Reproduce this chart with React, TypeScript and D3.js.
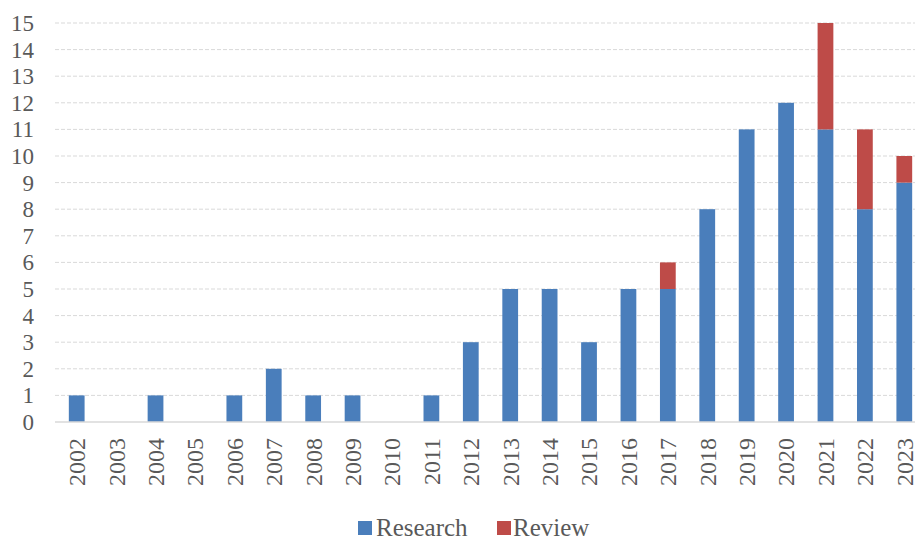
import React from 'react';
import * as d3 from 'd3';

const years = ['2002', '2003', '2004', '2005', '2006', '2007', '2008', '2009', '2010', '2011', '2012',
  '2013', '2014', '2015', '2016', '2017', '2018', '2019', '2020', '2021', '2022', '2023'];
const research = [1, 0, 1, 0, 1, 2, 1, 1, 0, 1, 3, 5, 5, 3, 5, 5, 8, 11, 12, 11, 8, 9];
const review = [0, 0, 0, 0, 0, 0, 0, 0, 0, 0, 0, 0, 0, 0, 0, 1, 0, 0, 0, 4, 3, 1];
const yTicks = d3.range(0, 16);

const W = 915;
const H = 543;
const font = '"Liberation Serif", "Times New Roman", serif';
const textColor = '#595959';
const blue = '#4A7EBB';
const red = '#BE4B48';

export default function App() {
  const x = d3.scaleBand<string>().domain(years).range([57, 924]).paddingInner(0.6).paddingOuter(0.3);
  const y = d3.scaleLinear().domain([0, 15]).range([422, 23]);

  const rows = years.map((yr, i) => ({ yr, research: research[i], review: review[i] }));
  const stack = d3.stack<{ yr: string; research: number; review: number }>().keys(['research', 'review'])(rows);
  const colors = [blue, red];

  return (
    <svg width={W} height={H} style={{ position: 'absolute', left: 0, top: 0, background: '#fff' }}>
      {yTicks.map(t => (
        <g key={t}>
          {t > 0 && (
            <line x1={55} x2={W} y1={y(t)} y2={y(t)} stroke="#d9d9d9" strokeWidth={1} strokeDasharray="4,2" />
          )}
          <text x={34} y={y(t)} dy="0.35em" textAnchor="end" fontFamily={font} fontSize={23} fill={textColor}>
            {t}
          </text>
        </g>
      ))}
      {stack.map((layer, li) => (
        <g key={li} fill={colors[li]}>
          {layer.map((d, i) => d[1] > d[0] ? (
            <rect key={i} x={x(years[i])} width={x.bandwidth()} y={y(d[1])} height={y(d[0]) - y(d[1])} />
          ) : null)}
        </g>
      ))}
      <line x1={55} x2={W} y1={y(0)} y2={y(0)} stroke="#d9d9d9" strokeWidth={1.5} />
      {years.map(yr => (
        <text key={yr} transform={`translate(${(x(yr) as number) + x.bandwidth() / 2},438) rotate(-90)`}
          dy="0.35em" textAnchor="end" fontFamily={font} fontSize={24} fill={textColor}>
          {yr}
        </text>
      ))}
      <g fontFamily={font} fontSize={25} fill={textColor}>
        <rect x={358} y={521} width={14} height={14} fill={blue} />
        <text x={376} y={536}>Research</text>
        <rect x={497} y={521} width={14} height={14} fill={red} />
        <text x={513} y={536}>Review</text>
      </g>
    </svg>
  );
}
